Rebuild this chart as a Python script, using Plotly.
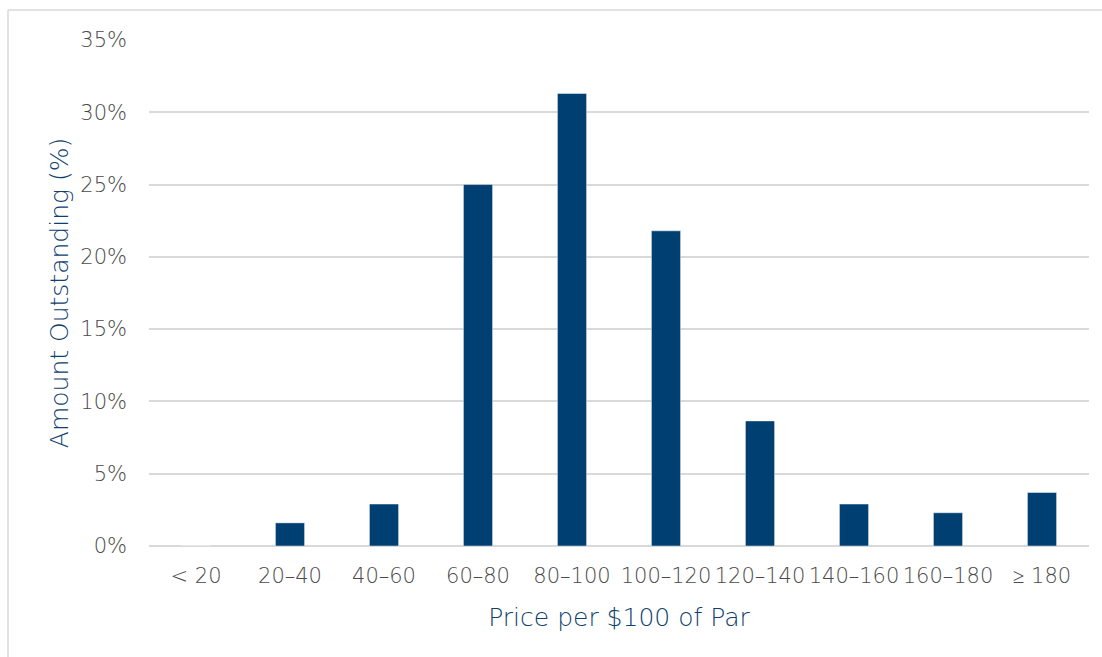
import plotly.graph_objects as go

categories = ["< 20", "20–40", "40–60", "60–80", "80–100", "100–120", "120–140", "140–160", "160–180", "≥ 180"]
amount_pct = [0.0, 1.6, 2.9, 25.0, 31.3, 21.8, 8.65, 2.9, 2.3, 3.7]
y_ticks = [0, 5, 10, 15, 20, 25, 30, 35]
y_tick_labels = ["0%", "5%", "10%", "15%", "20%", "25%", "30%", "35%"]

BAR = "#003F72"
TITLE = "#0E3F6E"
TICK = "#4A4A4A"
GRID = "#D9D9D9"
FONT = "DejaVu Sans"

fig = go.Figure(go.Bar(
    x=categories, y=amount_pct,
    marker=dict(color=BAR, line=dict(color="rgba(255,255,255,0.45)", width=1)),
    width=0.31,
))

W, H = 1102, 657
L, R, T, B = 149, 13, 40, 111
pw, ph = W - L - R, H - T - B

def px(x):
    return (x - L) / pw

def py(y):
    return (H - B - y) / ph

fig.update_layout(
    width=W, height=H,
    margin=dict(l=L, r=R, t=T, b=B, autoexpand=False),
    paper_bgcolor="white", plot_bgcolor="white",
    showlegend=False,
    font=dict(family=FONT, color=TICK),
    xaxis=dict(
        showgrid=False, showline=False, zeroline=False,
        tickfont=dict(size=21, color=TICK, weight=300), ticks="",
        ticklabelstandoff=15,
        title=dict(text="Price per $100 of Par", font=dict(size=25, color=TITLE, weight=300), standoff=21),
    ),
    yaxis=dict(
        range=[0, 35], tickvals=y_ticks, ticktext=y_tick_labels,
        showgrid=True, gridcolor=GRID, gridwidth=1.5,
        zeroline=True, zerolinecolor=GRID, zerolinewidth=1.5,
        showline=False, ticks="",
        tickfont=dict(size=21, color=TICK, weight=300),
        ticklabelstandoff=21,
        title=dict(text="Amount Outstanding (%)", font=dict(size=25, color=TITLE, weight=300), standoff=4),
    ),
    shapes=[
        dict(type="line", xref="paper", yref="paper", x0=px(8), x1=px(1110), y0=py(10), y1=py(10),
             line=dict(color=GRID, width=1.5)),
        dict(type="line", xref="paper", yref="paper", x0=px(8), x1=px(8), y0=py(10), y1=py(670),
             line=dict(color=GRID, width=1.5)),
    ],
)

fig.write_html("out.html")
